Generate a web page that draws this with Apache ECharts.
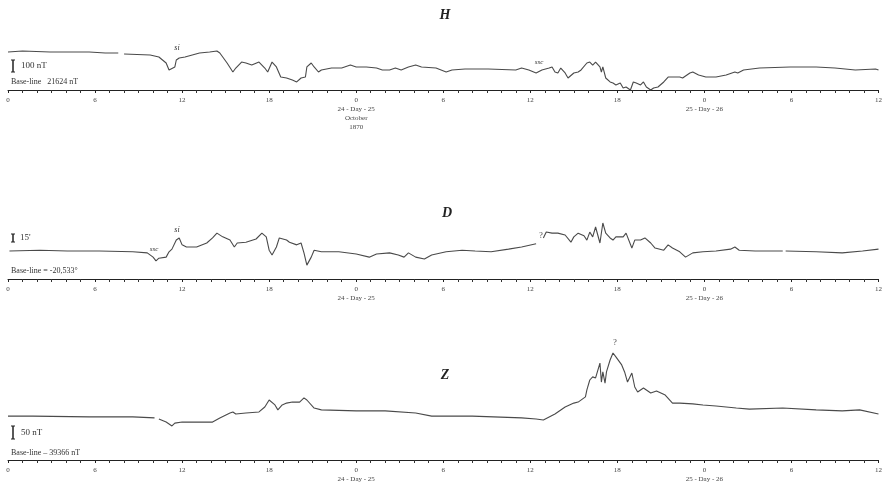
<!DOCTYPE html>
<html><head><meta charset="utf-8">
<script src="https://cdn.jsdelivr.net/npm/echarts@6/dist/echarts.min.js"></script>
<style>html,body{margin:0;padding:0;background:#fff}#c{width:885px;height:486px}</style>
</head><body><div id="c"></div>
<script>
// Tick labels (hour of day) every 6 h over 60 h
const tickLabels = ['0','6','12','18','0','6','12','18','0','6','12'];
const dayLabelH = ['24 - Day - 25','October','1870'];
const dayLabel1 = '24 - Day - 25';
const dayLabel2 = '25 - Day - 26';
const panelTitles = ['H','D','Z'];
const scaleTexts = ['100 nT','15\'','50 nT'];
const baseTexts = ['Base-line   21624 nT','Base-line = -20,533°','Base-line \u2013 39366 nT'];

// H trace: [hour, nT above axis]
const hTrace = [
[0,317],[1.0,325],[2.9,317],[5.6,317],[6.7,308],[7.6,308],[7.8,null],[8.0,300],[9.8,292],[10.4,275],[10.9,225],[11.1,167],[11.5,192],[11.6,250],[11.8,267],[12.2,275],[12.7,292],[13.2,308],[13.9,317],[14.4,325],[14.6,308],[15.1,225],[15.5,150],[15.7,183],[16.1,233],[16.4,225],[16.8,208],[17.3,233],[17.7,183],[17.9,150],[18.2,233],[18.5,192],[18.8,108],[19.2,100],[19.6,83],[19.9,67],[20.2,100],[20.5,108],[20.6,192],[20.9,225],[21.1,192],[21.2,208],[21.4,150],[21.6,167],[22.3,183],[23.0,183],[23.6,208],[24.0,192],[24.7,192],[25.4,183],[25.8,167],[26.3,167],[26.7,183],[27.1,167],[27.6,192],[28.1,208],[28.5,192],[29.5,183],[30.2,150],[30.6,167],[31.5,175],[33.1,175],[35.0,167],[35.4,183],[35.9,167],[36.4,142],[36.8,167],[37.3,183],[37.5,192],[37.7,150],[37.9,142],[38.1,183],[38.4,142],[38.6,100],[39.0,142],[39.3,150],[39.5,167],[39.9,225],[40.1,233],[40.3,208],[40.5,233],[40.8,192],[40.9,150],[41.0,192],[41.2,100],[41.5,67],[41.7,58],[41.9,42],[42.2,58],[42.4,17],[42.6,25],[42.9,0],[43.1,67],[43.3,58],[43.6,42],[43.8,67],[44.0,25],[44.3,0],[44.5,17],[44.8,25],[45.2,67],[45.5,108],[45.8,108],[46.3,108],[46.5,100],[47.0,142],[47.2,150],[47.6,125],[48.1,108],[48.8,108],[49.5,125],[50.1,150],[50.3,142],[50.7,167],[51.8,183],[53.9,192],[55.7,192],[57.0,183],[58.4,167],[59.8,175],[60,167]
];

// D trace: [hour, arc-minutes above axis]
const dTrace = [
[0.1,52.5],[2.2,54],[4.1,52.5],[6.3,52.5],[8.6,51],[9.6,49],[10.0,41],[10.2,34],[10.4,39],[10.9,41],[11.1,51],[11.3,56],[11.6,73],[11.8,77],[12.0,64],[12.3,60],[13.0,60],[13.7,67.5],[14.1,77],[14.4,86],[14.8,79],[15.3,73],[15.6,60],[15.8,67.5],[16.4,69],[17.1,75],[17.5,86],[17.8,79],[18.0,54],[18.2,45],[18.5,60],[18.7,77],[19.2,73],[19.4,69],[19.9,64],[20.2,67.5],[20.4,49],[20.6,26],[20.9,41],[21.1,54],[21.6,51],[22.8,51],[24.0,47],[24.9,41],[25.4,47],[26.3,49],[26.9,45],[27.3,41],[27.6,49],[28.1,41],[28.7,37.5],[29.2,45],[30.2,51],[31.3,54],[32.2,52.5],[33.3,51],[34.5,56],[35.4,60],[36.4,66],[36.6,null],[36.9,77],[37.1,88],[37.5,86],[37.9,86],[38.4,82.5],[38.8,69],[39.0,79],[39.3,86],[39.7,81],[39.9,73],[40.1,88],[40.3,79],[40.5,97.5],[40.8,67.5],[41.0,105],[41.2,86],[41.5,77],[41.7,73],[41.9,79],[42.4,79],[42.6,86],[43.0,58],[43.2,73],[43.6,73],[43.9,77],[44.3,67.5],[44.6,58],[45.2,54],[45.5,64],[45.8,58],[46.3,51],[46.7,41],[47.2,49],[47.9,51],[48.8,52.5],[49.8,56],[50.1,60],[50.4,54],[51.5,52.5],[53.4,52.5],[53.5,null],[53.6,52.5],[55.7,51],[57.5,49],[58.9,52.5],[60,56]
];

// Z trace: [hour, nT above axis]
const zTrace = [
[0,169],[1.7,169],[5.6,166],[8.6,166],[10.1,162],[10.25,null],[10.4,158],[10.9,146],[11.3,131],[11.5,142],[12.0,146],[13.2,146],[14.1,146],[14.6,162],[15.3,181],[15.5,185],[15.7,177],[16.4,181],[17.3,185],[17.7,204],[18.0,231],[18.4,212],[18.6,193],[18.9,212],[19.2,219],[19.6,223],[19.7,227],[20.1,223],[20.4,239],[20.6,231],[21.1,200],[21.6,193],[24.0,189],[26.0,189],[28.1,181],[29.2,169],[32.0,169],[35.4,162],[36.4,158],[36.9,154],[37.7,177],[38.4,204],[39.0,219],[39.3,223],[39.8,243],[39.9,270],[40.1,308],[40.3,320],[40.5,316],[40.8,373],[40.9,300],[41.0,339],[41.15,296],[41.25,339],[41.5,385],[41.7,412],[41.9,397],[42.3,366],[42.5,339],[42.7,300],[43.0,335],[43.2,281],[43.4,262],[43.8,277],[44.3,258],[44.7,266],[45.3,250],[45.8,219],[46.3,219],[47.2,216],[47.9,212],[48.8,208],[50.2,200],[51.1,196],[53.4,200],[55.7,193],[57.5,189],[58.7,193],[60,177]
];

const FONT = 'Liberation Serif';
const LINE = '#4a4a4a';

function labelFmt(panel) {
  return function (v) {
    const i = Math.round(v / 6);
    const t = tickLabels[i];
    if (v === 24) {
      return panel === 0 ? t + '\n' + dayLabelH.join('\n') : t + '\n' + dayLabel1;
    }
    if (v === 48) return t + '\n' + dayLabel2;
    return t;
  };
}

function xAxisFor(i) {
  return {
    type: 'value', gridIndex: i, min: 0, max: 60, interval: 6,
    axisLine: { onZero: false, lineStyle: { color: '#222', width: 1 } },
    axisTick: { length: 3, lineStyle: { color: '#222' } },
    minorTick: { show: true, splitNumber: 6, length: 3, lineStyle: { color: '#333' } },
    splitLine: { show: false },
    axisLabel: { fontFamily: FONT, fontSize: 7, color: '#444', margin: 6, lineHeight: 9,
      formatter: labelFmt(i), showMinLabel: true, showMaxLabel: true, hideOverlap: false }
  };
}
function yAxisFor(i, max) {
  return { type: 'value', gridIndex: i, min: 0, max: max, show: false };
}
function series(i, data) {
  return { type: 'line', xAxisIndex: i, yAxisIndex: i, data: data, symbol: 'none',
    clip: false, connectNulls: false, animation: false,
    lineStyle: { color: LINE, width: 1.1 } };
}

function scaleBar(x, y1, y2) {
  return [
    { type: 'line', shape: { x1: x, y1: y1, x2: x, y2: y2 }, style: { stroke: '#222', lineWidth: 1.5 } },
    { type: 'line', shape: { x1: x - 2, y1: y1, x2: x + 2, y2: y1 }, style: { stroke: '#222', lineWidth: 1 } },
    { type: 'line', shape: { x1: x - 2, y1: y2, x2: x + 2, y2: y2 }, style: { stroke: '#222', lineWidth: 1 } }
  ];
}
function txt(x, y, s, size, extra) {
  return { type: 'text', x: x, y: y, style: Object.assign({ text: s, fontFamily: FONT, fontSize: size, fill: '#333', textVerticalAlign: 'middle' }, extra || {}) };
}

const chart = echarts.init(document.getElementById('c'), null, { renderer: 'canvas' });
chart.setOption({
  backgroundColor: '#fff',
  animation: false,
  grid: [
    { left: 8, right: 4, top: 30, height: 60 },
    { left: 8, right: 4, top: 219, height: 60 },
    { left: 8, right: 4, top: 340, height: 120 }
  ],
  xAxis: [xAxisFor(0), xAxisFor(1), xAxisFor(2)],
  yAxis: [yAxisFor(0, 500), yAxisFor(1, 112.5), yAxisFor(2, 462)],
  series: [series(0, hTrace), series(1, dTrace), series(2, zTrace)],
  graphic: [].concat(
    [txt(445, 15, panelTitles[0], 14, { fontWeight: 'bold', fontStyle: 'italic', textAlign: 'center', fill: '#222' }),
     txt(447, 213, panelTitles[1], 14, { fontWeight: 'bold', fontStyle: 'italic', textAlign: 'center', fill: '#222' }),
     txt(445, 375, panelTitles[2], 14, { fontWeight: 'bold', fontStyle: 'italic', textAlign: 'center', fill: '#222' })],
    scaleBar(13, 60, 72), scaleBar(13, 234, 242), scaleBar(13, 426, 439),
    [txt(21, 66, scaleTexts[0], 9), txt(20, 238, scaleTexts[1], 9), txt(21, 433, scaleTexts[2], 9),
     txt(11, 82, baseTexts[0], 8), txt(11, 271, baseTexts[1], 8), txt(11, 453, baseTexts[2], 8),
     txt(177, 48, 'si', 8, { fontStyle: 'italic', textAlign: 'center' }),
     txt(539, 62, 'ssc', 7, { fontStyle: 'italic', textAlign: 'center' }),
     txt(154, 249, 'ssc', 7, { fontStyle: 'italic', textAlign: 'center' }),
     txt(177, 230, 'si', 8, { fontStyle: 'italic', textAlign: 'center' }),
     txt(541, 236, '?', 8, { textAlign: 'center' }),
     txt(615, 343, '?', 8, { textAlign: 'center' })]
  )
});
</script>
</body></html>
